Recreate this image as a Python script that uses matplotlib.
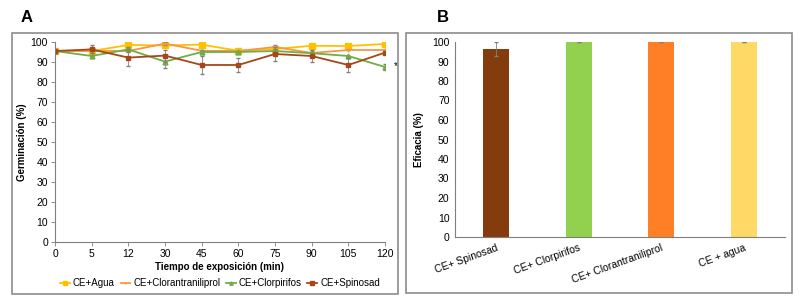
import numpy as np
import matplotlib.pyplot as plt
from matplotlib.patches import Rectangle

plt.rcParams['font.family'] = ['Liberation Sans', 'DejaVu Sans']

# PANEL A DATA
tiempos = ["0", "5", "12", "30", "45", "60", "75", "90", "105", "120"]
agua = [95.5, 95.5, 98.5, 98.3, 98.7, 95.6, 96.5, 98.1, 98.0, 99.0]
cloran = [95.5, 95.5, 95.5, 99.2, 95.6, 95.5, 97.5, 94.5, 96.0, 96.0]
clorpi = [95.5, 93.0, 96.3, 90.2, 95.0, 95.0, 95.5, 94.4, 93.0, 87.5]
spino = [95.5, 96.3, 92.2, 93.2, 88.5, 88.5, 94.0, 93.0, 88.5, 94.7]

err_agua = [0, 0, 1.5, 1.0, 0, 0, 0, 0, 0, 0]
err_cloran = [0, 1.0, 0, 0.8, 0, 0, 0.8, 1.2, 0, 0]
err_clorpi = [0, 0, 1.2, 3.0, 1.0, 0, 0.8, 0, 0, 1.5]
err_spino = [0, 2.0, 4.2, 3.0, 4.5, 3.5, 3.5, 3.2, 3.5, 0]

# PANEL B DATA
tratamientos = ["CE+ Spinosad", "CE+ Clorpirifos", "CE+ Clorantraniliprol", "CE + agua"]
eficacia = [96.5, 100, 100, 100]
err_eficacia = [3.5, 0.2, 0.2, 0.2]

fig = plt.figure(figsize=(8, 2.99), dpi=100)

# panel frames
fig.patches.append(Rectangle((12/800, 1 - 294/299), 386/800, 261/299, transform=fig.transFigure,
                             fill=False, edgecolor='#8c8c8c', lw=1.2))
fig.patches.append(Rectangle((406/800, 1 - 293/299), 386/800, 260/299, transform=fig.transFigure,
                             fill=False, edgecolor='#8c8c8c', lw=1.2))

fig.text(27/800, 1 - 17/299, "A", fontsize=12, fontweight='bold', va='center', ha='center')
fig.text(443/800, 1 - 17/299, "B", fontsize=12, fontweight='bold', va='center', ha='center')

# PANEL A
ax1 = fig.add_axes([55/800, 1 - 242/299, 330/800, 200/299])
x = np.arange(len(tiempos))
series = [
    ("CE+Agua", agua, err_agua, '#FFC000', 's', 4),
    ("CE+Clorantraniliprol", cloran, err_cloran, '#F79646', '|', 3),
    ("CE+Clorpirifos", clorpi, err_clorpi, '#70AD47', '^', 3.5),
    ("CE+Spinosad", spino, err_spino, '#A5471B', 's', 3.5),
]
for lab, y, e, c, m, ms in series:
    ax1.errorbar(x, y, yerr=e, fmt='none', ecolor='#7f7f7f', elinewidth=0.6, capsize=1.2)
    ax1.plot(x, y, color=c, marker=m, markersize=ms, lw=1.3, label=lab)
ax1.text(x[-1] + 0.25, clorpi[-1] + 0.5, "*", fontsize=7, va='center')

ax1.set_xlim(0, len(tiempos) - 1)
ax1.set_ylim(0, 100)
ax1.set_xticks(x)
ax1.set_xticklabels(tiempos)
ax1.set_yticks(np.arange(0, 101, 10))
ax1.tick_params(labelsize=7.5, length=3, width=0.6, color='#7f7f7f', pad=2)
for s in ['top', 'right']:
    ax1.spines[s].set_visible(False)
for s in ['left', 'bottom']:
    ax1.spines[s].set_color('#7f7f7f')
    ax1.spines[s].set_linewidth(0.8)
ax1.set_xlabel("Tiempo de exposición (min)", fontsize=7, fontweight='bold', labelpad=2)
ax1.set_ylabel("Germinación (%)", fontsize=7, fontweight='bold', labelpad=3)
ax1.legend(loc='center', bbox_to_anchor=(0.5, -0.205), ncol=4, frameon=False,
           fontsize=7, handlelength=1.0, handletextpad=0.3, columnspacing=0.6, markerscale=0.7)

# PANEL B
ax2 = fig.add_axes([455/800, 1 - 237/299, 330/800, 195/299])
xb = np.arange(len(tratamientos))
ax2.bar(xb, eficacia, width=0.315, color=['#843C0C', '#92D050', '#FF7F27', '#FFD966'],
        yerr=err_eficacia, ecolor='#7f7f7f', error_kw=dict(elinewidth=0.6, capsize=1.5))
ax2.set_xlim(-0.5, len(tratamientos) - 0.5)
ax2.set_ylim(0, 100)
ax2.set_yticks(np.arange(0, 101, 10))
ax2.set_xticks(xb)
ax2.set_xticklabels(tratamientos, rotation=20, ha='right', rotation_mode='anchor')
ax2.tick_params(labelsize=7.5, length=0, pad=4)
for s in ['top', 'right']:
    ax2.spines[s].set_visible(False)
for s in ['left', 'bottom']:
    ax2.spines[s].set_color('#7f7f7f')
    ax2.spines[s].set_linewidth(0.8)
ax2.set_ylabel("Eficacia (%)", fontsize=7, fontweight='bold', labelpad=6)

plt.savefig("out.png", dpi=100)
